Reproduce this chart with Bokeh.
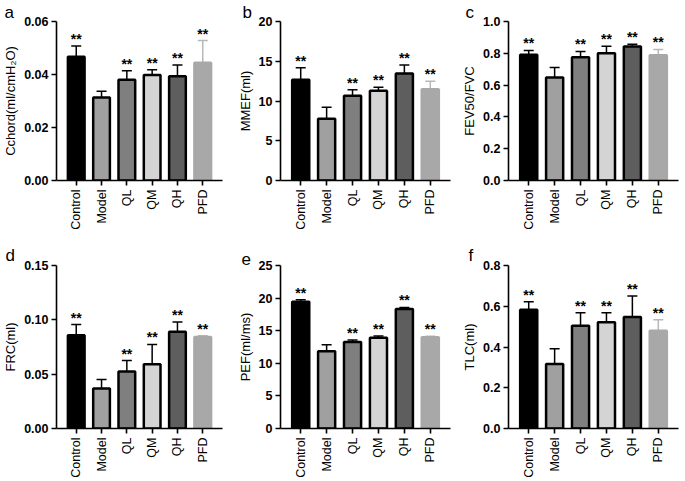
import math
from bokeh.plotting import figure
from bokeh.models import (FactorRange, Range1d, FixedTicker, NumeralTickFormatter,
                          Whisker, TeeHead, ColumnDataSource)
from bokeh.layouts import gridplot
from bokeh.embed import file_html
from bokeh.resources import INLINE
from bokeh.core.properties import value

# ---------------- data ----------------
groups = ["Control", "Model", "QL", "QM", "QH", "PFD"]
bar_colors = ["#000000", "#a0a0a0", "#7f7f7f", "#d4d4d4", "#5e5e5e", "#a8a8a8"]
outline_colors = ["#000000", "#000000", "#000000", "#000000", "#000000", "#a8a8a8"]
err_colors = ["#000000", "#000000", "#000000", "#000000", "#000000", "#b8b8b8"]
stars = ["**", "", "**", "**", "**", "**"]

letters = ["a", "b", "c", "d", "e", "f"]
y_labels = ["Cchord(ml/cmH\u2082O)", "MMEF(ml)", "FEV50/FVC", "FRC(ml)", "PEF(ml/ms)", "TLC(ml)"]

a_mean = [0.0467, 0.0313, 0.0380, 0.0398, 0.0393, 0.0444]
a_top = [0.0508, 0.0337, 0.0414, 0.0418, 0.0436, 0.0528]
b_mean = [12.68, 7.77, 10.67, 11.29, 13.46, 11.49]
b_top = [14.19, 9.20, 11.41, 11.74, 14.52, 12.50]
c_mean = [0.791, 0.648, 0.775, 0.800, 0.843, 0.787]
c_top = [0.818, 0.710, 0.812, 0.845, 0.857, 0.824]
d_mean = [0.0857, 0.0369, 0.0524, 0.0591, 0.0890, 0.0841]
d_top = [0.0957, 0.0451, 0.0625, 0.0774, 0.0979, 0.0854]
e_mean = [19.44, 11.84, 13.27, 13.93, 18.32, 13.98]
e_top = [19.74, 12.86, 13.57, 14.18, 18.57, 14.13]
f_mean = [0.583, 0.317, 0.504, 0.521, 0.547, 0.480]
f_top = [0.622, 0.392, 0.568, 0.568, 0.650, 0.534]

a_ticks = [0.00, 0.02, 0.04, 0.06]
b_ticks = [0, 5, 10, 15, 20]
c_ticks = [0.0, 0.2, 0.4, 0.6, 0.8, 1.0]
d_ticks = [0.00, 0.05, 0.10, 0.15]
e_ticks = [0, 5, 10, 15, 20, 25]
f_ticks = [0.0, 0.2, 0.4, 0.6, 0.8]
tick_formats = ["0.00", "0", "0.0", "0.00", "0", "0.0"]

means = [a_mean, b_mean, c_mean, d_mean, e_mean, f_mean]
tops = [a_top, b_top, c_top, d_top, e_top, f_top]
ticks = [a_ticks, b_ticks, c_ticks, d_ticks, e_ticks, f_ticks]

FONT = "Liberation Sans"
W, H = 228, 240
ML, MR = 52, 6
MT_ROW = [16, 25]
MB_ROW = [60, 51]
LETTER_X = [0, 14, 9, 1, 13, 12]
LETTER_VALIGN = ["bottom", "middle"]


def make_panel(i):
    mean, top, tk = means[i], tops[i], ticks[i]
    row = i // 3
    p = figure(width=W, height=H, output_backend="svg", toolbar_location=None,
               x_range=FactorRange(*groups, range_padding=0.28, range_padding_units="absolute"),
               y_range=Range1d(tk[0], tk[-1]),
               min_border_left=ML, min_border_right=MR,
               min_border_top=MT_ROW[row], min_border_bottom=MB_ROW[row])
    p.background_fill_color = "white"
    p.border_fill_color = "white"
    p.outline_line_color = None
    p.xgrid.grid_line_color = None
    p.ygrid.grid_line_color = None

    p.title.text = letters[i]
    p.title.align = "left"
    p.title.offset = -ML + LETTER_X[i]
    p.title.standoff = 0
    p.title.vertical_align = LETTER_VALIGN[row]
    p.title.text_line_height = 0.7
    p.title.text_font = FONT
    p.title.text_font_size = "17px"
    p.title.text_font_style = "normal"
    p.title.text_color = "black"

    src = ColumnDataSource(dict(x=groups, mean=mean, top=top, fill=bar_colors,
                                line=outline_colors, star=stars))
    p.vbar(x="x", top="mean", bottom=0, width=0.66, source=src,
           fill_color="fill", line_color="line", line_width=2.5)

    for col in sorted(set(err_colors)):
        idx = [k for k in range(len(groups)) if err_colors[k] == col]
        esrc = ColumnDataSource(dict(x=[groups[k] for k in idx],
                                     lo=[mean[k] for k in idx],
                                     hi=[top[k] for k in idx]))
        w = Whisker(source=esrc, base="x", lower="lo", upper="hi", dimension="height",
                    line_color=col, line_width=1.5, lower_head=None,
                    upper_head=TeeHead(size=10, line_color=col, line_width=1.5))
        p.add_layout(w)

    p.text(x="x", y="top", text="star", source=src, text_align="center",
           text_baseline="bottom", y_offset=1, text_font=value(FONT),
           text_font_size="14px", text_font_style="bold", text_color="black")

    p.yaxis.ticker = FixedTicker(ticks=tk)
    p.yaxis.formatter = NumeralTickFormatter(format=tick_formats[i])
    p.yaxis.axis_label = y_labels[i]
    for ax in (p.xaxis[0], p.yaxis[0]):
        ax.axis_line_width = 1.6
        ax.axis_line_color = "black"
        ax.major_tick_line_width = 1.6
        ax.major_tick_line_color = "black"
        ax.major_tick_out = 5
        ax.major_tick_in = 0
        ax.minor_tick_line_color = None
        ax.major_label_text_color = "black"
        ax.major_label_text_font = FONT
    p.yaxis.major_label_text_font_size = "12.5px"
    p.yaxis.major_label_text_font_style = "bold"
    p.yaxis.major_label_standoff = 3
    p.yaxis.axis_label_text_font = FONT
    p.yaxis.axis_label_text_font_size = "13px"
    p.yaxis.axis_label_text_font_style = "normal"
    p.yaxis.axis_label_text_color = "black"
    p.yaxis.axis_label_standoff = 3
    p.xaxis.major_label_orientation = math.pi / 2
    p.xaxis.major_label_text_font_size = "12.5px"
    p.xaxis.major_label_standoff = 4
    return p


panels = [make_panel(i) for i in range(6)]
grid = gridplot([panels[0:3], panels[3:6]], toolbar_location=None)
open("out.html", "w").write(file_html(grid, INLINE))
